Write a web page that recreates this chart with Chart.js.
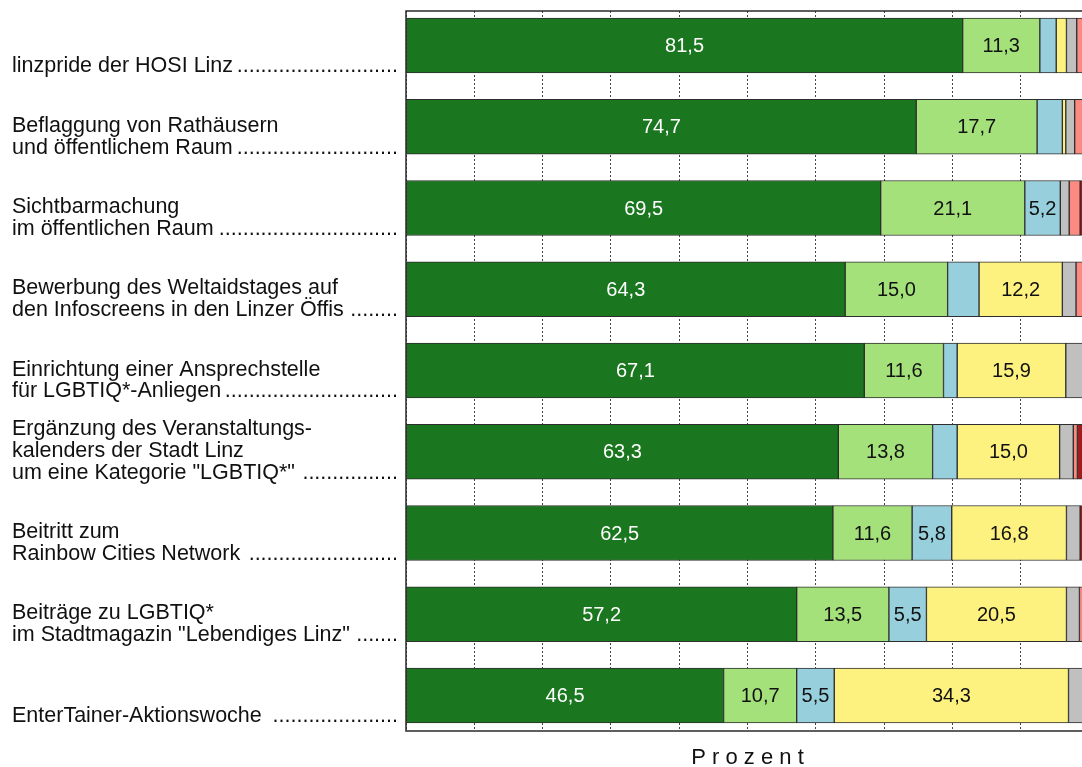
<!DOCTYPE html>
<html lang="de">
<head>
<meta charset="UTF-8">
<title>Bekanntheit und Bewertung der Maßnahmen</title>
<script src="https://cdn.jsdelivr.net/npm/chart.js"></script>
<style>
body {
    margin: 0;
    padding: 0;
    background: white;
    overflow: hidden;
}

.chart-box {
    width: 1100px;
    height: 767px;
}
</style>
</head>
<body>
<div class="chart-box">
    <canvas id="massnahmen" width="1100" height="767"></canvas>
</div>

<script>
// Maßnahmen (Beschriftung links, zeilenweise)
const massnahmen = [
    ['linzpride der HOSI Linz'],
    ['Beflaggung von Rathäusern', 'und öffentlichem Raum'],
    ['Sichtbarmachung', 'im öffentlichen Raum'],
    ['Bewerbung des Weltaidstages auf', 'den Infoscreens in den Linzer Öffis '],
    ['Einrichtung einer Ansprechstelle', 'für LGBTIQ*-Anliegen'],
    ['Ergänzung des Veranstaltungs-', 'kalenders der Stadt Linz', 'um eine Kategorie "LGBTIQ*" '],
    ['Beitritt zum', 'Rainbow Cities Network '],
    ['Beiträge zu LGBTIQ*', 'im Stadtmagazin "Lebendiges Linz" '],
    ['EnterTainer-Aktionswoche ']
];

// Anteile in Prozent je Antwortkategorie
const anteil1 = [81.5, 74.7, 69.5, 64.3, 67.1, 63.3, 62.5, 57.2, 46.5];
const anteil2 = [11.3, 17.7, 21.1, 15.0, 11.6, 13.8, 11.6, 13.5, 10.7];
const anteil3 = [2.4, 3.7, 5.2, 4.6, 2.0, 3.6, 5.8, 5.5, 5.5];
const anteil4 = [1.5, 0.5, null, 12.2, 15.9, 15.0, 16.8, 20.5, 34.3];
const anteil5 = [1.5, 1.3, 1.3, 2.0, 3.4, 2.0, 2.0, 1.9, 3.0];
const anteil6 = [1.8, 2.1, 1.6, 1.9, null, 0.6, null, 1.4, null];
const anteil7 = [null, null, 1.3, null, null, 1.7, 1.3, null, null];

const xTicks = [0, 10, 20, 30, 40, 50, 60, 70, 80, 90, 100];

const reihen = [
    { label: 'Antwort 1', data: anteil1, farbe: '#1b771f' },
    { label: 'Antwort 2', data: anteil2, farbe: '#a4e17a' },
    { label: 'Antwort 3', data: anteil3, farbe: '#97d0dc' },
    { label: 'Antwort 4', data: anteil4, farbe: '#fdf180' },
    { label: 'Antwort 5', data: anteil5, farbe: '#c0c0c0' },
    { label: 'Antwort 6', data: anteil6, farbe: '#fa8a82' },
    { label: 'Antwort 7', data: anteil7, farbe: '#a31c1c' }
];

const schrift = '"Liberation Sans", Arial, sans-serif';

function zahl(v) {
    return v.toFixed(1).replace('.', ',');
}

// Beschriftungen links mit Punktlinie, Werte in den Balken, Rahmen und Achsentitel
const beschriftung = {
    id: 'beschriftung',
    afterDatasetsDraw(chart) {
        const ctx = chart.ctx;
        const area = chart.chartArea;
        const yScale = chart.scales.y;

        ctx.save();

        // Werte in den Segmenten
        ctx.font = '20px ' + schrift;
        ctx.textAlign = 'center';
        ctx.textBaseline = 'middle';
        chart.data.datasets.forEach((ds, d) => {
            const meta = chart.getDatasetMeta(d);
            meta.data.forEach((bar, i) => {
                const v = ds.data[i].x;
                if (v == null || v < 5) return;
                ctx.fillStyle = d === 0 ? '#ffffff' : '#111111';
                ctx.fillText(zahl(v), (bar.x + bar.base) / 2, bar.y + 1);
            });
        });

        // Kategorien links
        ctx.font = '21.5px ' + schrift;
        ctx.textAlign = 'left';
        ctx.textBaseline = 'middle';
        ctx.fillStyle = '#111111';
        const zeile = 21.7;
        const punkt = ctx.measureText('.').width;
        massnahmen.forEach((zeilen, i) => {
            const letzte = yScale.getPixelForValue(i) + 21;
            zeilen.forEach((t, z) => {
                const y = letzte - (zeilen.length - 1 - z) * zeile;
                ctx.fillText(t, 12, y);
            });
            const ende = 12 + ctx.measureText(zeilen[zeilen.length - 1]).width;
            const n = Math.floor((398 - ende) / punkt);
            ctx.textAlign = 'right';
            ctx.fillText('.'.repeat(Math.max(n, 0)), 398, letzte);
            ctx.textAlign = 'left';
        });

        // Rahmen
        ctx.strokeStyle = '#2a2a2a';
        ctx.lineWidth = 1.5;
        ctx.beginPath();
        ctx.moveTo(chart.width, area.top);
        ctx.lineTo(area.left, area.top);
        ctx.lineTo(area.left, area.bottom);
        ctx.lineTo(chart.width, area.bottom);
        ctx.stroke();

        // Achsentitel
        ctx.font = '22px ' + schrift;
        ctx.textAlign = 'center';
        ctx.fillStyle = '#111111';
        ctx.fillText('P r o z e n t', (area.left + area.right) / 2, 758);

        ctx.restore();
    }
};

new Chart(document.getElementById('massnahmen'), {
    type: 'bar',
    data: {
        datasets: reihen.map(r => ({
            label: r.label,
            data: r.data.map((v, i) => ({ x: v, y: i })),
            backgroundColor: r.farbe,
            borderColor: '#2e2e2e',
            borderWidth: 1,
            borderSkipped: false,
            barThickness: 55
        }))
    },
    options: {
        indexAxis: 'y',
        responsive: false,
        animation: false,
        devicePixelRatio: 1,
        layout: {
            padding: { left: 406, top: 11, right: 11, bottom: 36 }
        },
        plugins: {
            legend: { display: false },
            tooltip: { enabled: false }
        },
        scales: {
            x: {
                type: 'linear',
                stacked: true,
                min: 0,
                max: 100,
                afterBuildTicks: s => { s.ticks = xTicks.map(v => ({ value: v })); },
                afterFit: s => { s.height = 0; },
                ticks: { display: false },
                grid: {
                    color: '#444444',
                    lineWidth: 1,
                    drawTicks: false
                },
                border: { display: false, dash: [2, 2] }
            },
            y: {
                type: 'linear',
                stacked: true,
                reverse: true,
                offset: false,
                min: -0.4246,
                max: 8.437,
                display: false
            }
        }
    },
    plugins: [beschriftung]
});
</script>
</body>
</html>
